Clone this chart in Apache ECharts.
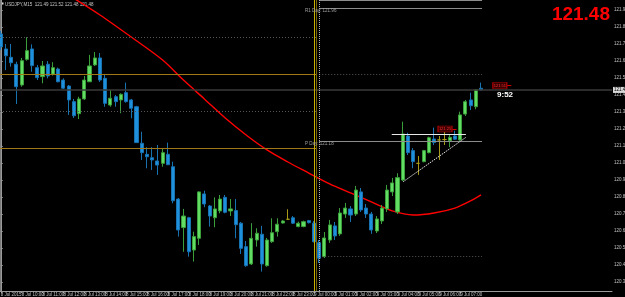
<!DOCTYPE html>
<html>
<head>
<meta charset="utf-8">
<script src="https://cdn.jsdelivr.net/npm/echarts@6/dist/echarts.min.js"></script>
<style>
  html, body { margin: 0; padding: 0; background: #000; }
  #chart { width: 625px; height: 297px; }
</style>
</head>
<body>
<div id="chart"></div>
<script>
// USDJPY M15, candles 8 Jul 09:00 .. 9 Jul 08:00 (index = bar number)
const opens = [121.809,121.721,121.672,121.631,121.509,121.660,121.721,121.611,121.558,121.631,
  121.572,121.603,121.538,121.503,121.411,121.340,121.427,121.528,121.627,121.668,
  121.548,121.391,121.440,121.421,121.464,121.421,121.381,121.166,121.101,121.081,
  121.062,121.048,121.101,121.028,120.838,120.670,120.728,120.538,120.607,120.868,
  120.797,120.728,120.768,120.848,120.768,120.770,120.696,120.558,120.456,120.597,
  120.631,120.446,120.587,120.646,120.697,120.719,120.728,120.676,120.676,120.711,
  120.696,120.581,120.499,120.597,120.680,120.633,120.750,120.780,120.750,120.880,
  120.785,120.750,120.650,120.709,120.780,120.880,120.762,120.950,121.209,121.123,
  121.048,121.058,121.111,121.191,121.186,121.188,121.181,121.209,121.186,121.338,
  121.421,121.381,121.490];
const closes = [121.733,121.681,121.640,121.499,121.652,121.711,121.623,121.552,121.621,121.562,
  121.611,121.528,121.490,121.421,121.328,121.427,121.538,121.621,121.668,121.538,
  121.401,121.431,121.411,121.454,121.411,121.372,121.170,121.111,121.087,121.068,
  121.038,121.111,121.040,120.828,120.656,120.738,120.528,120.617,120.880,120.809,
  120.738,120.780,120.838,120.760,120.780,120.687,120.548,120.446,120.607,120.637,
  120.456,120.597,120.640,120.690,120.709,120.719,120.696,120.696,120.705,120.699,
  120.587,120.490,120.609,120.686,120.621,120.756,120.785,120.744,120.891,120.774,
  120.750,120.656,120.721,120.785,120.891,120.933,120.964,121.221,121.111,121.058,
  121.048,121.123,121.199,121.170,121.186,121.188,121.201,121.190,121.333,121.411,
  121.387,121.480,121.480];
const lows = [121.715,121.597,121.617,121.397,121.499,121.652,121.587,121.538,121.519,121.548,
  121.564,121.525,121.486,121.333,121.315,121.309,121.421,121.527,121.621,121.527,
  121.381,121.381,121.381,121.343,121.405,121.313,121.168,121.068,121.019,121.009,
  120.980,121.028,121.038,120.813,120.617,120.528,120.499,120.470,120.568,120.790,
  120.676,120.672,120.754,120.754,120.738,120.607,120.515,120.440,120.450,120.558,
  120.411,120.440,120.580,120.617,120.694,120.715,120.691,120.672,120.672,120.694,
  120.583,120.462,120.491,120.580,120.597,120.621,120.727,120.703,120.738,120.762,
  120.727,120.633,120.638,120.691,120.762,120.856,120.750,120.944,121.097,121.019,
  120.980,121.054,121.107,121.156,121.068,121.156,121.143,121.186,121.181,121.327,
  121.362,121.366,121.477];
const highs = [121.827,121.750,121.750,121.646,121.668,121.790,121.748,121.627,121.650,121.650,
  121.643,121.611,121.548,121.509,121.427,121.440,121.562,121.686,121.703,121.697,
  121.568,121.480,121.450,121.460,121.523,121.427,121.386,121.234,121.143,121.143,
  121.156,121.138,121.170,121.058,120.844,120.780,120.733,120.646,120.883,120.887,
  120.803,120.848,120.862,120.862,120.838,120.838,120.703,120.591,120.696,120.666,
  120.680,120.609,120.725,120.725,120.715,120.778,120.738,120.705,120.711,120.715,
  120.709,120.597,120.644,120.715,120.703,120.785,120.815,120.797,120.915,120.903,
  120.809,120.762,120.738,120.803,120.921,120.962,120.990,121.293,121.228,121.138,
  121.091,121.127,121.205,121.258,121.209,121.244,121.215,121.240,121.352,121.421,
  121.464,121.484,121.523];

// moving average read at a few bars
const maBars = [13, 19, 25, 31, 35, 39, 43, 47, 51, 55, 59, 63, 67, 71, 75, 79, 83, 87, 90, 92];
const maValues = [122.038, 121.921, 121.791, 121.656, 121.538, 121.427, 121.315, 121.215, 121.127, 121.056,
  120.991, 120.927, 120.874, 120.821, 120.768, 120.744, 120.756, 120.785, 120.827, 120.862];

// axis labels
const priceTicks = [121.95,121.85,121.75,121.65,121.55,121.45,121.35,121.25,121.15,121.05,
  120.95,120.85,120.75,120.65,120.55,120.45,120.35];
const timeTickBars = [0,4,8,12,16,20,24,28,32,36,40,44,48,52,56,60,64,68,72,76,80,84,88,92];
const timeTickLabels = ['8 Jul 2015','8 Jul 10:00','8 Jul 11:00','8 Jul 12:00','8 Jul 13:00','8 Jul 14:00',
  '8 Jul 15:00','8 Jul 16:00','8 Jul 17:00','8 Jul 18:00','8 Jul 19:00','8 Jul 20:00','8 Jul 21:00',
  '8 Jul 22:00','8 Jul 23:00','9 Jul 00:00','9 Jul 01:00','9 Jul 02:00','9 Jul 03:00','9 Jul 04:00',
  '9 Jul 05:00','9 Jul 06:00','9 Jul 07:00','9 Jul 08:00'];

// levels
const bidPrice = 121.48;
const prevDayLevels = [121.574, 121.138];     // solid orange, yesterday
const prevDayMids = [121.790, 121.355];       // dotted, yesterday
const todayPivots = [['R1 Day: 121.96', 121.96], ['P Day: 121.18', 121.18]];
const todayTop = 122.005;
const todayMids = [121.574, 120.499];
const daySeparators = [60.1, 60.45];
const pivotStartBar = 61.06;
const triangleTop = [[74.9, 121.221], [89.1, 121.221]];
const triangleBase = [[77.1, 120.940], [89.1, 121.201]];
const priceAlerts = [[85.1, 121.250, '121.25'], [95.6, 121.506, '121.51']];
const timerText = '9:52';

const xMin = -0.149, xMax = 117.09;
const leftEnd = 60.4, todayStart = 61.0, todayEnd = 92.2;

const chart = echarts.init(document.getElementById('chart'));

const candles = opens.map((o, i) => [i, o, closes[i], lows[i], highs[i]]);
const maData = maBars.map((b, i) => [b, maValues[i]]);

const seg = (x0, x1, y, style, label) => [
  { coord: [x0, y], lineStyle: style, label: label || { show: false } },
  { coord: [x1, y] }
];
const orange = { color: '#a07818', width: 1, type: 'solid' };
const dotted = { color: '#555555', width: 1, type: [1, 2] };
const pivotGray = { color: '#8c8c8c', width: 1, type: 'solid' };

const levelLines = [];
prevDayLevels.forEach(p => levelLines.push(seg(xMin, leftEnd, p, orange)));
prevDayMids.forEach(p => levelLines.push(seg(xMin, leftEnd, p, dotted)));
todayMids.forEach(p => levelLines.push(seg(todayStart, todayEnd, p, dotted)));
todayPivots.forEach(p => levelLines.push(seg(todayStart, todayEnd, p[1], pivotGray)));
levelLines.push(seg(todayStart, todayEnd, todayTop, pivotGray));
levelLines.push(seg(xMin, xMax, bidPrice, { color: '#3a3a3a', width: 1.5, type: 'solid' }, {
  show: true, position: 'end', distance: 1, formatter: bidPrice.toFixed(2),
  fontSize: 4.5, color: '#000', backgroundColor: '#d8d8d8', padding: [1, 1, 0, 1], fontFamily: 'Liberation Sans'
}));
levelLines.push([
  { coord: triangleTop[0], lineStyle: { color: '#e8e8e8', width: 1.2, type: 'solid' }, label: { show: false } },
  { coord: triangleTop[1] }
]);
levelLines.push([
  { coord: triangleBase[0], lineStyle: { color: '#e8e8e8', width: 1, type: [1.5, 1] }, label: { show: false } },
  { coord: triangleBase[1] }
]);
priceAlerts.forEach(a => levelLines.push([
  { coord: [a[0] + 1.4, a[1]], lineStyle: { color: '#d00000', width: 1, type: 'solid' }, label: { show: false } },
  { coord: [a[0] + 2.2, a[1]] }
]));
daySeparators.forEach((x, i) => levelLines.push({
  xAxis: x, lineStyle: { color: i === 0 ? '#c8b400' : '#7a6800', width: 1, type: 'solid' }, label: { show: false }
}));
levelLines.push({ xAxis: pivotStartBar, lineStyle: { color: '#b0b0b0', width: 1, type: [1, 1] }, label: { show: false } });

const notes = [];
todayPivots.forEach(p => notes.push({
  coord: [58.3, p[1] - 0.015], symbolSize: 0,
  label: { show: true, position: 'right', distance: 0, formatter: p[0], color: '#a0a0a0', fontSize: 4.5, fontFamily: 'Liberation Sans' }
}));
priceAlerts.forEach(a => notes.push({
  coord: [a[0], a[1]], symbol: 'rect', symbolSize: [14, 6],
  itemStyle: { color: '#3a0000', borderColor: '#b00000', borderWidth: 0.8 },
  label: { show: true, position: 'inside', formatter: a[2], color: '#ff3030', fontSize: 4, fontFamily: 'Liberation Sans' }
}));
notes.push({
  coord: [96.6, 121.451], symbolSize: 0,
  label: { show: true, position: 'inside', formatter: timerText, color: '#ffffff', fontSize: 8, fontWeight: 'bold', fontFamily: 'Liberation Sans' }
});

const option = {
  backgroundColor: '#000',
  animation: false,
  grid: { left: 0, right: 13, top: 0, bottom: 6, outerBoundsMode: 'none' },
  xAxis: {
    type: 'value', min: xMin, max: xMax,
    splitLine: { show: false },
    axisLine: { show: true, onZero: false, lineStyle: { color: '#9a9a9a', width: 1 } },
    axisTick: { show: true, customValues: timeTickBars, length: 2, lineStyle: { color: '#9a9a9a' } },
    axisLabel: {
      customValues: timeTickBars, align: 'left', margin: 1, fontSize: 4.5, color: '#c0c0c0',
      fontFamily: 'Liberation Sans',
      formatter: v => timeTickLabels[timeTickBars.indexOf(Math.round(v))] || ''
    }
  },
  yAxis: [{
    type: 'value', position: 'right', min: 120.297, max: 122.009,
    splitLine: { show: false },
    axisLine: { show: true, lineStyle: { color: '#9a9a9a', width: 1 } },
    axisTick: { show: true, customValues: priceTicks, length: 2, lineStyle: { color: '#9a9a9a' } },
    axisLabel: {
      customValues: priceTicks, margin: 2, fontSize: 4.5, color: '#c0c0c0', fontFamily: 'Liberation Sans',
      formatter: v => v.toFixed(2)
    }
  }, {
    type: 'value', position: 'left', min: 120.297, max: 122.009,
    splitLine: { show: false }, axisTick: { show: false }, axisLabel: { show: false },
    axisLine: { show: true, lineStyle: { color: '#7a7a7a', width: 1 } }
  }],
  series: [{
    name: 'levels', type: 'line', data: [], z: 1, silent: true,
    markLine: { symbol: 'none', silent: true, animation: false, data: levelLines },
    markPoint: { silent: true, animation: false, data: notes }
  }, {
    name: 'USDJPY', type: 'candlestick', z: 3,
    data: candles, encode: { x: 0, y: [1, 2, 3, 4] },
    barWidth: 3.6,
    itemStyle: {
      color: '#62dc62', color0: '#1e90dc',
      borderColor: '#3a9e3a', borderColor0: '#1872b0', borderColorDoji: '#a89a18',
      borderWidth: 1
    }
  }, {
    name: 'MA', type: 'line', z: 2, data: maData, showSymbol: false, smooth: 0.3,
    lineStyle: { color: '#ff0000', width: 1.4 }
  }],
  graphic: [
    { type: 'rect', left: 1.5, top: 2.5, shape: { width: 2, height: 2 }, style: { fill: '#e0e0e0' } },
    { type: 'text', left: 5, top: 1.8, style: { text: 'USDJPY,M15  121.49 121.52 121.48 121.48', fill: '#c8c8c8', font: '4.5px "Liberation Sans"' } },
    { type: 'text', right: 15, top: 5, style: { text: '121.48', fill: '#ff0000', font: 'bold 19px "Liberation Sans"' } }
  ]
};
chart.setOption(option);
</script>
</body>
</html>
